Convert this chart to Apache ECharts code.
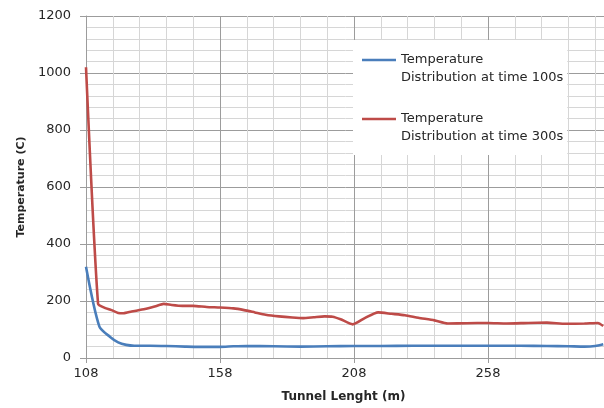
<!DOCTYPE html>
<html>
<head>
<meta charset="utf-8">
<script src="https://cdn.jsdelivr.net/npm/echarts@6/dist/echarts.min.js"></script>
<style>
  html, body { margin: 0; padding: 0; background: #fff; }
  #chart { width: 604px; height: 408px; }
</style>
</head>
<body>
<div id="chart"></div>
<script>
// Temperature along the tunnel at two moments of the fire simulation
const seriesNames = [
  'Temperature\nDistribution at time 100s',
  'Temperature\nDistribution at time 300s'
];

// time 100 s
const lengthAt100 = [108, 113, 117, 120, 123, 126, 132, 138, 145, 150, 158, 163, 168, 178, 188, 198, 208, 218, 230, 245, 258, 270, 280, 288, 294, 298, 301];
const tempAt100   = [320, 110, 74, 55, 46, 43, 43, 42, 40, 39, 39, 41, 42, 41, 40, 41, 42, 42, 43, 43, 43, 43, 42, 41, 40, 42, 48];

// time 300 s
const lengthAt300 = [108, 112.5, 115, 117.5, 120, 122, 125, 130, 134, 137, 140, 144, 148, 153, 158, 163, 167, 171, 175, 180, 185, 189, 193, 197, 200, 203, 207.5, 212, 217, 222, 227, 232, 238, 243, 250, 258, 265, 273, 280, 287, 294, 299, 301];
const tempAt300   = [1020, 190, 176, 168, 158, 157, 163, 172, 182, 190, 186, 183, 183, 179, 177, 174, 168, 160, 152, 146, 142, 140, 143, 146, 145, 136, 118, 140, 160, 155, 150, 141, 132, 121, 122, 123, 121, 123, 124, 120, 121, 123, 112];

// axis ranges (the plot runs past the right edge of the canvas)
const xMin = 108, xMax = 308, xStep = 50;
const yMin = 0, yMax = 1200, yStep = 200;

const pairs = (xs, ys) => xs.map((x, i) => [x, ys[i]]);

const FONT = 'DejaVu Sans';
const majorGrid = '#9c9c9c';
const minorGrid = '#d6d6d6';
const textColor = '#262626';

// horizontal line icon sitting beside the first line of a two-line legend label
const legendIcon = 'path://M0,0L0,0M0,36L0,36M0,7.7L34,7.7L34,10.3L0,10.3Z';

const chart = echarts.init(document.getElementById('chart'), null, { renderer: 'canvas' });

chart.setOption({
  animation: false,
  backgroundColor: '#ffffff',
  grid: { left: 86, top: 16, width: 536, height: 342, containLabel: false, outerBoundsMode: 'none' },
  xAxis: {
    type: 'value',
    min: xMin, max: xMax, interval: xStep,
    name: 'Tunnel Lenght (m)',
    nameLocation: 'middle',
    nameGap: 33,
    nameTextStyle: { fontFamily: FONT, fontWeight: 'bold', fontSize: 12, color: textColor, padding: [0, 21, 0, 0] },
    axisLine: { show: true, lineStyle: { color: majorGrid, width: 1 } },
    axisTick: { show: true, length: 5, lineStyle: { color: majorGrid } },
    axisLabel: { fontFamily: FONT, fontSize: 13, color: textColor, margin: 9, showMaxLabel: false,
                 formatter: v => String(v) },
    splitLine: { show: true, lineStyle: { color: majorGrid, width: 1 } },
    minorTick: { show: false, splitNumber: 5 },
    minorSplitLine: { show: true, lineStyle: { color: minorGrid, width: 1 } }
  },
  yAxis: {
    type: 'value',
    min: yMin, max: yMax, interval: yStep,
    name: 'Temperature (C)',
    nameLocation: 'middle',
    nameGap: 58,
    nameTextStyle: { fontFamily: FONT, fontWeight: 'bold', fontSize: 11, color: textColor },
    axisLine: { show: true, lineStyle: { color: majorGrid, width: 1 } },
    axisTick: { show: true, length: 6, lineStyle: { color: majorGrid } },
    axisLabel: { fontFamily: FONT, fontSize: 13, color: textColor, margin: 15,
                 formatter: v => String(v) },
    splitLine: { show: true, lineStyle: { color: majorGrid, width: 1 } },
    minorTick: { show: false, splitNumber: 5 },
    minorSplitLine: { show: true, lineStyle: { color: minorGrid, width: 1 } }
  },
  legend: {
    orient: 'vertical',
    left: 353, top: 40,
    padding: [11, 4, 9, 9],
    itemGap: 23,
    itemWidth: 34, itemHeight: 36,
    icon: legendIcon,
    itemStyle: { borderWidth: 0 },
    backgroundColor: '#ffffff',
    textStyle: { fontFamily: FONT, fontSize: 13, lineHeight: 18, color: textColor },
    data: seriesNames
  },
  series: [
    {
      name: seriesNames[0], type: 'line',
      data: pairs(lengthAt100, tempAt100),
      showSymbol: false, smooth: 0.25,
      color: '#4a7ebb',
      lineStyle: { width: 2.6, color: '#4a7ebb' }
    },
    {
      name: seriesNames[1], type: 'line',
      data: pairs(lengthAt300, tempAt300),
      showSymbol: false, smooth: 0.2,
      color: '#be4b48',
      lineStyle: { width: 2.6, color: '#be4b48' }
    }
  ]
});
</script>
</body>
</html>
